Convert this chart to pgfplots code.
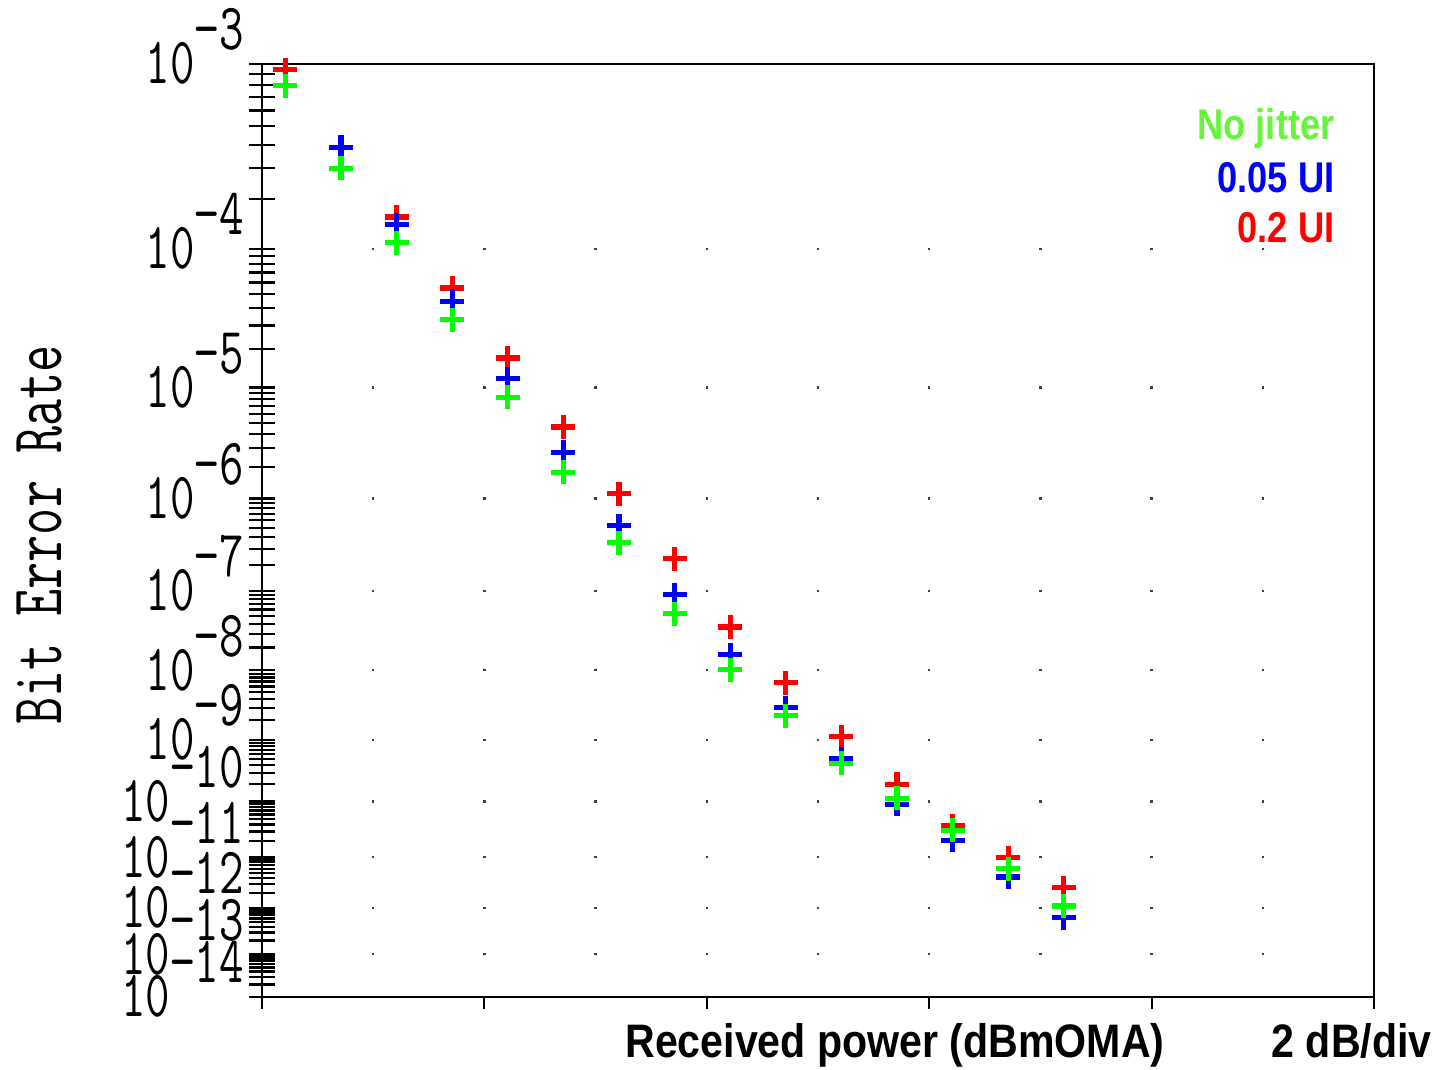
\documentclass[border=0pt]{standalone}
\usepackage{fontspec}
\usepackage{graphicx}
\usepackage{pgfplots}
\usepackage{pgfplotstable}
\pgfplotsset{compat=1.18}
\newfontfamily\lib{Liberation Sans}
\definecolor{cgreen}{RGB}{0,255,0}
\definecolor{cblue}{RGB}{0,0,255}
\definecolor{cred}{RGB}{255,0,0}
\definecolor{lgreen}{RGB}{102,245,60}

% BER values; x in dB (2 dB/div)
\pgfplotstableread{
x    r        b        g
0.21 9.40e-4  7.91e-4  7.91e-4
0.71 3.89e-4  3.89e-4  2.99e-4
1.21 1.57e-4  1.41e-4  1.09e-4
1.71 5.52e-5  4.47e-5  3.31e-5
2.21 1.71e-5  1.18e-5  8.28e-6
2.71 4.63e-6  2.75e-6  1.79e-6
3.21 1.11e-6  5.28e-7  3.47e-7
3.71 2.32e-7  9.04e-8  5.35e-8
4.21 3.66e-8  1.62e-8  1.02e-8
4.71 6.73e-9  2.99e-9  2.31e-9
5.21 1.11e-9  5.06e-10 4.26e-10
5.71 1.94e-10 8.93e-11 1.13e-10
6.21 3.74e-11 2.08e-11 3.13e-11
6.71 9.82e-12 4.16e-12 6.05e-12
7.21 2.56e-12 6.24e-13 1.09e-12
}\data

\xdef\majlist{0.40654}
\foreach \k in {4,...,14}{\pgfmathparse{log10(\k-0.45)}\xdef\majlist{\majlist,\pgfmathresult}}
\xdef\minlist{0.40654}
\foreach \k in {4,...,14}{\foreach \m in {2,...,9}{\pgfmathparse{log10(\k-log10(\m)-0.45)}\xdef\minlist{\minlist,\pgfmathresult}}}

\newcommand\ylab[1]{{\ttfamily\fontsize{33bp}{33bp}\selectfont\scalebox{0.72}[1]{10\raisebox{17bp}{−#1}}}}

\begin{document}
\begin{tikzpicture}
\begin{axis}[
  name=ax,
  scale only axis,
  width=556bp, height=466.5bp,
  xmin=0, xmax=10,
  ymin=0.40654, ymax=1.131939,
  y dir=reverse,
  clip=false,
  xtick=\empty,
  ytick/.expanded={\majlist},
  minor ytick/.expanded={\minlist},
  yticklabels={},
  ytick pos=left,
  tick align=center,
  major tick length=13bp,
  minor tick length=13bp,
  every tick/.style={black, line width=1.15bp},
  every minor tick/.style={black, line width=1.15bp},
  axis line style={line width=1.3bp, black},
  ymajorgrids=true,
  major grid style={draw=black!75, line width=1.2bp, dash pattern=on 1.2bp off 54.4bp, dash phase=0.6bp},
]
\addplot[only marks, mark=+, mark size=6bp, color=cred, mark options={line width=2.6bp}]
  table[x=x, y expr={log10(-log10(\thisrow{r})-0.45)}] {\data};
\addplot[only marks, mark=+, mark size=6bp, color=cblue, mark options={line width=2.6bp}]
  table[x=x, y expr={log10(-log10(\thisrow{b})-0.45)}] {\data};
\addplot[only marks, mark=+, mark size=6bp, color=cgreen, mark options={line width=2.6bp}]
  table[x=x, y expr={log10(-log10(\thisrow{g})-0.45)}] {\data};

\pgfplotsinvokeforeach{0,2,4,6,8,10}{\draw[line width=1.1bp] (axis cs:#1,1.131939) -- ([yshift=-6bp]axis cs:#1,1.131939);}

\pgfplotsinvokeforeach{3,4,5,6,7,8,9,10,11,12,13,14}{
  \node[anchor=base east, inner sep=0pt, xshift=-9bp, yshift=-10bp] at (axis cs:0,{log10(#1-0.45)}) {\ylab{#1}};
}

\node[xshift=-100bp, yshift=-2.25bp, rotate=90, anchor=base, inner sep=0pt] at (rel axis cs:0,0.5)
  {\ttfamily\fontsize{36.5bp}{36.5bp}\selectfont\scalebox{0.72}[1]{Bit Error Rate}};

\node[anchor=base west, inner sep=0pt, xshift=181.5bp, yshift=-30bp] at (axis cs:0,1.131939)
  {\lib\bfseries\fontsize{23.5bp}{23.5bp}\selectfont\scalebox{0.875}[1]{Received power (dBmOMA)}};
\node[anchor=base east, inner sep=0pt, xshift=29bp, yshift=-30bp] at (axis cs:10,1.131939)
  {\lib\bfseries\fontsize{23.5bp}{23.5bp}\selectfont\scalebox{0.875}[1]{2 dB/div}};

\node[anchor=base east, inner sep=0pt, xshift=-19.5bp, yshift=-38bp, text=lgreen] at (axis cs:10,0.40654)
  {\lib\bfseries\fontsize{21.5bp}{21.5bp}\selectfont\scalebox{0.845}[1]{No jitter}};
\node[anchor=base east, inner sep=0pt, xshift=-19.5bp, yshift=-64bp, text=cblue] at (axis cs:10,0.40654)
  {\lib\bfseries\fontsize{21.5bp}{21.5bp}\selectfont\scalebox{0.845}[1]{0.05 UI}};
\node[anchor=base east, inner sep=0pt, xshift=-19.5bp, yshift=-89bp, text=cred] at (axis cs:10,0.40654)
  {\lib\bfseries\fontsize{21.5bp}{21.5bp}\selectfont\scalebox{0.845}[1]{0.2 UI}};
\end{axis}
\pgfresetboundingbox
\path[use as bounding box] ([xshift=-131bp,yshift=-36.5bp]ax.south west) rectangle ([xshift=35.5bp,yshift=32bp]ax.north east);
\end{tikzpicture}
\end{document}
